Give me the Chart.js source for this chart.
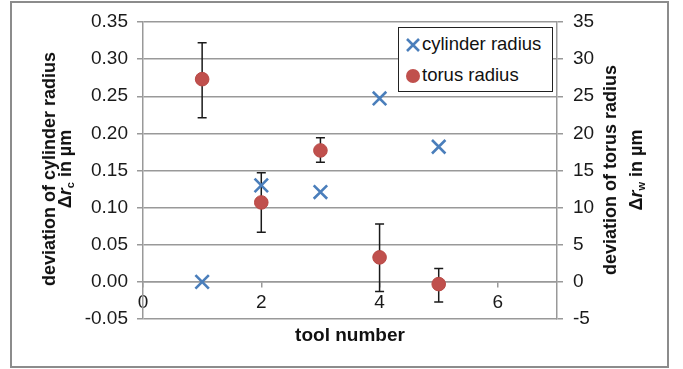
<!DOCTYPE html>
<html>
<head>
<meta charset="utf-8">
<script src="https://cdn.jsdelivr.net/npm/chart.js@4.4.1/dist/chart.umd.min.js"></script>
<style>
  body { margin: 0; background: #fff; font-family: "Liberation Sans", Arial, sans-serif; color: #111; }
  #wrap { position: relative; width: 683px; height: 369px; overflow: hidden; }
  #frame { position: absolute; left: 10px; top: 1px; width: 659px; height: 367px; box-sizing: border-box; border: 2px solid #8c8c8c; }
  canvas { position: absolute; left: 0; top: 0; }
  .title { position: absolute; font-weight: bold; font-size: 18px; white-space: nowrap; text-align: center; transform: translate(-50%, -50%) rotate(-90deg); }
  .title i { font-style: italic; }
  .title sub { font-size: 11px; vertical-align: -3px; line-height: 0; }
  #xtitle { position: absolute; left: 350px; top: 324px; transform: translateX(-50%); font-weight: bold; font-size: 19px; line-height: 22px; white-space: nowrap; }
  #legend { position: absolute; left: 398px; top: 27px; width: 155px; height: 65px; box-sizing: border-box; border: 1.5px solid #222; background: #fff; font-size: 18.5px; }
  #legend .row { position: absolute; left: 6px; height: 22px; line-height: 22px; white-space: nowrap; }
  #legend svg { vertical-align: -3px; margin-right: 1px; }
</style>
</head>
<body>
<div id="wrap">
  <div id="frame"></div>
  <canvas id="chart" width="683" height="369"></canvas>
  <div class="title" style="left:57px; top:169px; line-height:16px;">deviation of cylinder radius<br>Δ<i>r</i><sub>c</sub> in µm</div>
  <div class="title" style="left:623px; top:170px; line-height:26px;">deviation of torus radius<br>Δ<i>r</i><sub>w</sub> in µm</div>
  <div id="xtitle">tool number</div>
  <div id="legend">
    <div class="row" style="top:5px;"><svg width="16" height="16" viewBox="0 0 16 16"><path d="M2 2L14 14M14 2L2 14" stroke="#4a7ebb" stroke-width="2.6"/></svg>cylinder radius</div>
    <div class="row" style="top:36px;"><svg width="16" height="16" viewBox="0 0 16 16"><circle cx="8" cy="8" r="7" fill="#c0504d"/></svg>torus radius</div>
  </div>
</div>
<script>
const toolNumbers = [1, 2, 3, 4, 5];
const cylinderDev = [0.000, 0.130, 0.121, 0.247, 0.182];
const torusDev = [27.3, 10.7, 17.7, 3.3, -0.3];
const torusHigh = [32.2, 14.7, 19.4, 7.8, 1.8];
const torusLow = [22.1, 6.7, 16.1, -1.3, -2.7];

const xTicks = [0, 2, 4, 6];
const xRange = [0, 7];
const leftTicks = [-0.05, 0, 0.05, 0.1, 0.15, 0.2, 0.25, 0.3, 0.35];
const rightTicks = [-5, 0, 5, 10, 15, 20, 25, 30, 35];

const GRID = "#999";
const TEXT = "#1a1a1a";
const tickFont = { family: "'Liberation Sans', Arial, sans-serif", size: 19 };

const useTicks = (values) => (scale) => { scale.ticks = values.map((v) => ({ value: v })); };

// vertical error bars for the torus series, drawn under the dots
const errorBars = {
  id: "errorBars",
  beforeDatasetsDraw(chart) {
    const { ctx, scales } = chart;
    ctx.save();
    ctx.strokeStyle = "#1a1a1a";
    ctx.lineWidth = 1.5;
    toolNumbers.forEach((t, i) => {
      const x = scales.x.getPixelForValue(t);
      const hi = scales.y2.getPixelForValue(torusHigh[i]);
      const lo = scales.y2.getPixelForValue(torusLow[i]);
      ctx.beginPath();
      ctx.moveTo(x, hi); ctx.lineTo(x, lo);
      ctx.moveTo(x - 4.5, hi); ctx.lineTo(x + 4.5, hi);
      ctx.moveTo(x - 4.5, lo); ctx.lineTo(x + 4.5, lo);
      ctx.stroke();
    });
    ctx.restore();
  },
};

new Chart(document.getElementById("chart"), {
  type: "scatter",
  data: {
    datasets: [
      {
        label: "cylinder radius",
        data: toolNumbers.map((t, i) => ({ x: t, y: cylinderDev[i] })),
        yAxisID: "y",
        pointStyle: "crossRot",
        pointRadius: 9.5,
        borderWidth: 2.6,
        borderColor: "#4a7ebb",
        backgroundColor: "#4a7ebb",
      },
      {
        label: "torus radius",
        data: toolNumbers.map((t, i) => ({ x: t, y: torusDev[i] })),
        yAxisID: "y2",
        pointStyle: "circle",
        pointRadius: 6.8,
        borderWidth: 1,
        borderColor: "#b84844",
        backgroundColor: "#c0504d",
      },
    ],
  },
  options: {
    responsive: false,
    animation: false,
    events: [],
    layout: { padding: { left: 0, right: 0, top: 22, bottom: 50 } },
    plugins: { legend: { display: false }, tooltip: { enabled: false } },
    scales: {
      x: {
        type: "linear",
        position: { y: 0 },
        min: xRange[0],
        max: xRange[1],
        afterBuildTicks: useTicks(xTicks),
        grid: { drawOnChartArea: false, drawTicks: true, tickLength: 5, color: GRID, lineWidth: 1.5 },
        border: { display: true, color: GRID, width: 1.5 },
        ticks: { color: TEXT, font: tickFont, padding: 4, maxRotation: 0 },
      },
      y: {
        position: "left",
        min: leftTicks[0],
        max: leftTicks[leftTicks.length - 1],
        afterBuildTicks: useTicks(leftTicks),
        afterFit: (scale) => { scale.width = 143; },
        grid: { color: GRID, lineWidth: 1.5, tickLength: 6 },
        border: { display: true, color: GRID, width: 1.5 },
        ticks: { color: TEXT, font: tickFont, padding: 9, callback: (v) => v.toFixed(2) },
      },
      y2: {
        position: "right",
        min: rightTicks[0],
        max: rightTicks[rightTicks.length - 1],
        afterBuildTicks: useTicks(rightTicks),
        afterFit: (scale) => { scale.width = 126; },
        grid: { drawOnChartArea: false, color: GRID, lineWidth: 1.5, tickLength: 6 },
        border: { display: true, color: GRID, width: 1.5 },
        ticks: { color: TEXT, font: tickFont, padding: 10 },
      },
    },
  },
  plugins: [errorBars],
});
</script>
</body>
</html>
